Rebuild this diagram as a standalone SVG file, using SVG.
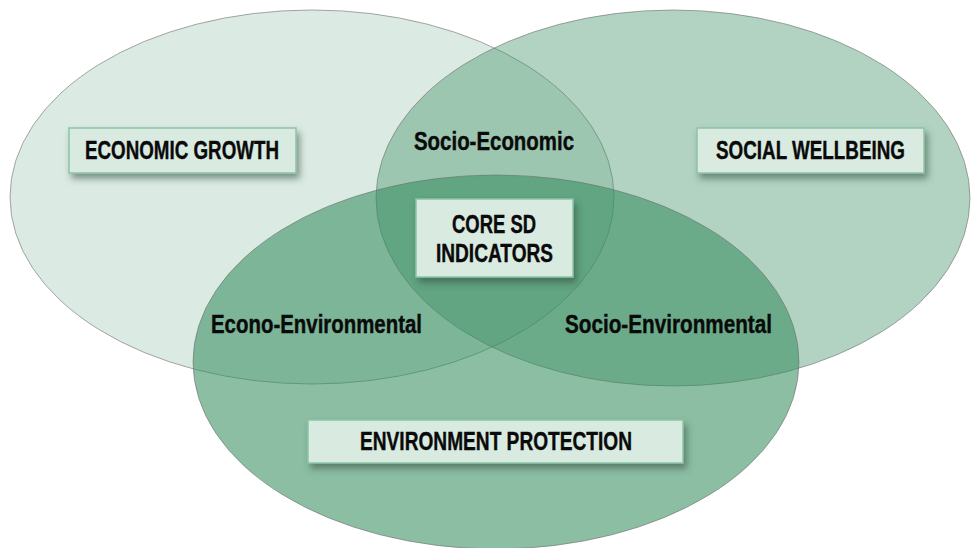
<svg xmlns="http://www.w3.org/2000/svg" width="971" height="548" viewBox="0 0 971 548">
  <defs>
    <filter id="shadow" x="-20%" y="-30%" width="140%" height="170%">
      <feDropShadow dx="3" dy="5" stdDeviation="3.5" flood-color="#2f4a3b" flood-opacity="0.55"/>
    </filter>
  </defs>
  <style>
    .circle { fill: #348c5f; stroke: #6f6f6f; stroke-width: 1; stroke-opacity: 0.6; }
    .box { fill: #d9eae1; stroke: #8cc4a6; stroke-width: 1.5; }
    .lbl { font-family: "Liberation Sans", Arial, sans-serif; font-weight: bold; font-size: 25px; fill: #0a0a0a; stroke: #0a0a0a; stroke-width: 0.4; }
  </style>
  <rect width="971" height="548" fill="#ffffff"/>
  <g id="circles">
    <g id="economic-growth-circle"><ellipse class="circle" cx="312" cy="197" rx="302" ry="187" fill-opacity="0.177"/></g>
    <g id="social-wellbeing-circle"><ellipse class="circle" cx="673" cy="198" rx="297" ry="188" fill-opacity="0.38"/></g>
    <g id="environment-protection-circle"><ellipse class="circle" cx="496" cy="362" rx="303" ry="187" fill-opacity="0.567"/></g>
  </g>
  <g id="connectors"></g>
  <g id="overlap-labels">
    <g id="socio-economic"><text class="lbl" x="414" y="150" textLength="160" lengthAdjust="spacingAndGlyphs">Socio-Economic</text></g>
    <g id="econo-environmental"><text class="lbl" x="211" y="333" textLength="211" lengthAdjust="spacingAndGlyphs">Econo-Environmental</text></g>
    <g id="socio-environmental"><text class="lbl" x="565" y="333" textLength="207" lengthAdjust="spacingAndGlyphs">Socio-Environmental</text></g>
  </g>
  <g id="economic-growth">
    <rect class="box" x="69" y="128" width="227" height="45" filter="url(#shadow)"/>
    <text class="lbl" x="85" y="159" textLength="194" lengthAdjust="spacingAndGlyphs">ECONOMIC GROWTH</text>
  </g>
  <g id="social-wellbeing">
    <rect class="box" x="697" y="128" width="227" height="45" filter="url(#shadow)"/>
    <text class="lbl" x="716" y="159" textLength="189" lengthAdjust="spacingAndGlyphs">SOCIAL WELLBEING</text>
  </g>
  <g id="core-sd-indicators">
    <rect class="box" x="416" y="199" width="157" height="78" filter="url(#shadow)"/>
    <text class="lbl" x="452" y="233" textLength="84" lengthAdjust="spacingAndGlyphs">CORE SD</text>
    <text class="lbl" x="436" y="262" textLength="117" lengthAdjust="spacingAndGlyphs">INDICATORS</text>
  </g>
  <g id="environment-protection">
    <rect class="box" x="308" y="420" width="375" height="43" filter="url(#shadow)"/>
    <text class="lbl" x="360" y="450" textLength="272" lengthAdjust="spacingAndGlyphs">ENVIRONMENT PROTECTION</text>
  </g>
</svg>
